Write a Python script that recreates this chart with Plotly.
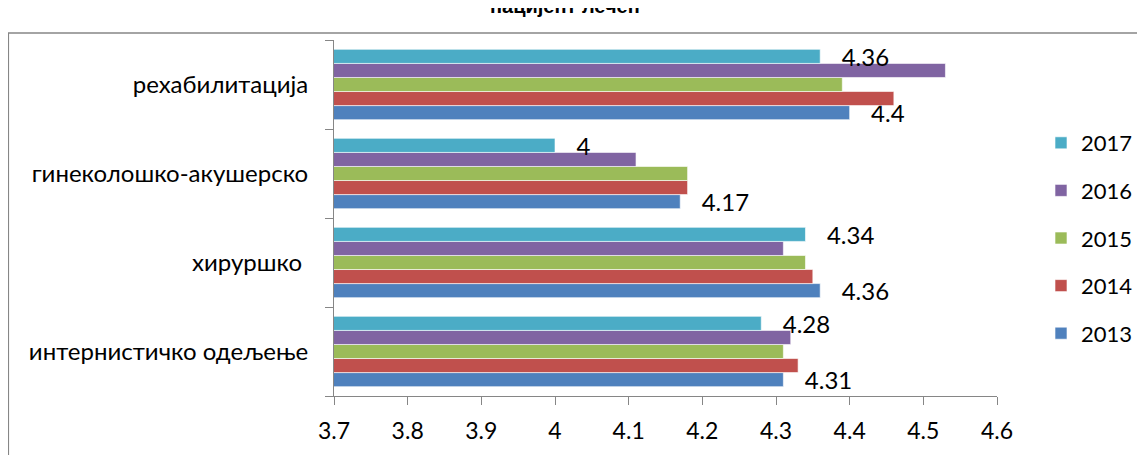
import plotly.graph_objects as go

categories = ["интернистичко одељење", "хируршко ", "гинеколошко-акушерско", "рехабилитација"]
years = ["2013", "2014", "2015", "2016", "2017"]
v2013 = [4.31, 4.36, 4.17, 4.40]
v2014 = [4.33, 4.35, 4.18, 4.46]
v2015 = [4.31, 4.34, 4.18, 4.39]
v2016 = [4.32, 4.31, 4.11, 4.53]
v2017 = [4.28, 4.34, 4.00, 4.36]
series = [v2013, v2014, v2015, v2016, v2017]
colors = ["#4F81BD", "#C0504D", "#9BBB59", "#8064A2", "#4BACC6"]
labelled = {"2013", "2017"}
x_ticks = [3.7, 3.8, 3.9, 4.0, 4.1, 4.2, 4.3, 4.4, 4.5, 4.6]
x_tick_text = ["3.7", "3.8", "3.9", "4", "4.1", "4.2", "4.3", "4.4", "4.5", "4.6"]
title_text = "пацијент лечен"

FONT = "Lato, 'Noto Sans', sans-serif"
# page body has an 8px margin, so the figure is 8px smaller and origin-shifted
W, H = 1137, 447
L, T = 326, 32
PW, PH = 663, 356

fig = go.Figure()
for i, (yr, vals, col) in enumerate(zip(years, series, colors)):
    show = yr in labelled
    fig.add_trace(go.Bar(
        y=categories, x=vals, orientation="h", name=yr,
        legendgroup=yr, legendrank=len(years) - i,
        marker=dict(color=col, line=dict(color="rgba(255,255,255,0.6)", width=1)),
        text=["   " + f"{v:g}" for v in vals] if show else None,
        textposition="outside" if show else "none",
        textfont=dict(size=24, color="#000000", family=FONT),
        constraintext="none",
        cliponaxis=False,
    ))

fig.update_layout(
    width=W, height=H,
    margin=dict(l=L, r=W - L - PW, t=T, b=H - T - PH, autoexpand=False),
    paper_bgcolor="white", plot_bgcolor="white",
    barmode="group", bargap=0.21, bargroupgap=0,
    font=dict(family=FONT, size=22, color="#000000"),
    showlegend=True,
    legend=dict(x=(1041 - 8 - L) / PW, xanchor="left", y=(T + PH - (122 - 8)) / PH, yanchor="top",
                traceorder="grouped", tracegroupgap=16,
                font=dict(size=22, family=FONT), itemwidth=30,
                bgcolor="rgba(0,0,0,0)"),
    xaxis=dict(range=[3.7, 4.6], tickvals=x_ticks, ticktext=x_tick_text,
               showgrid=False, zeroline=False, showline=True, linecolor="#868686",
               linewidth=1, ticks="outside", ticklen=8, tickcolor="#868686",
               tickfont=dict(size=23, family=FONT), ticklabelstandoff=6),
    yaxis=dict(type="category", categoryorder="array", categoryarray=categories,
               showgrid=False, showline=True, linecolor="#868686", linewidth=1,
               ticks="outside", ticklen=8, tickcolor="#868686", tickson="boundaries",
               tickfont=dict(size=24, family=FONT), ticklabelstandoff=20),
)

fig.add_annotation(text="<b>" + title_text + "</b>", xref="paper", yref="paper",
                   x=(565 - 8 - L) / PW, y=(T + PH + 2) / PH, xanchor="center", yanchor="middle",
                   showarrow=False, font=dict(size=20, family="Liberation Sans, Arial", color="#000"))

fig.add_shape(type="rect", xref="paper", yref="paper",
              x0=(7 - 8 - L) / PW + 0.002, x1=(1143 - 8 - L) / PW,
              y0=-0.3, y1=(T + PH - (33 - 8)) / PH,
              line=dict(color="#868686", width=1.5), layer="below")

fig.write_html("out.html")
